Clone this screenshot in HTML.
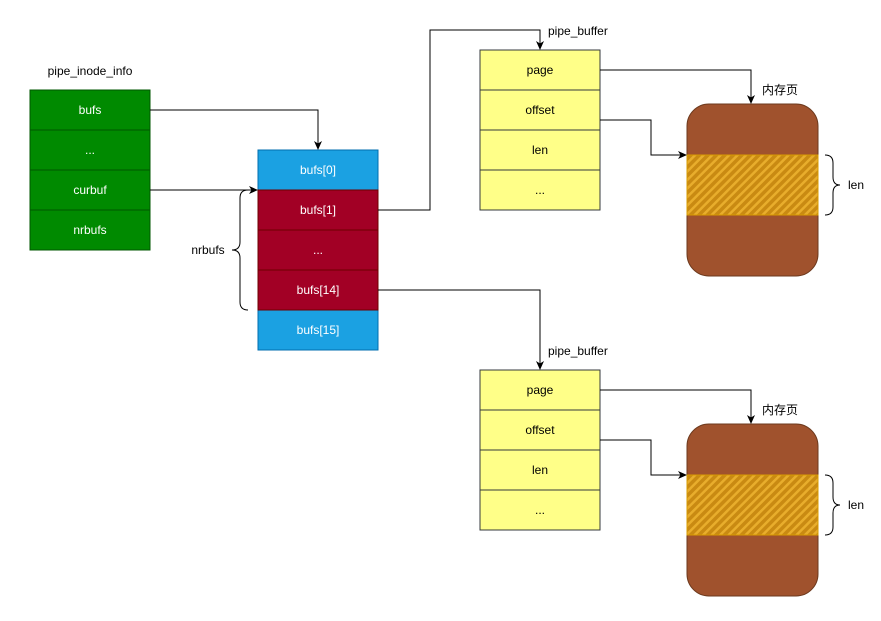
<!DOCTYPE html>
<html><head><meta charset="utf-8"><style>
html,body{margin:0;padding:0;background:#fff;width:881px;height:621px;overflow:hidden}
text{font-family:"Liberation Sans","Noto Sans CJK SC",sans-serif;font-size:12px}
</style></head><body>
<svg width="881" height="621" viewBox="0 0 881 621" xmlns="http://www.w3.org/2000/svg">
<defs>
<marker id="a" markerWidth="10" markerHeight="10" refX="8" refY="5" orient="auto" markerUnits="userSpaceOnUse">
<path d="M0,1 L9,5 L0,9 L2.5,5 z" fill="#000"/></marker>
<pattern id="h" width="6" height="6" patternUnits="userSpaceOnUse" patternTransform="rotate(45)">
<rect width="6" height="6" fill="#c98a12"/><rect width="2.5" height="6" fill="#e8ad2c"/></pattern>
</defs>
<!-- green -->
<text x="90" y="75" text-anchor="middle" fill="#000">pipe_inode_info</text>
<g stroke="#005700" fill="#008a00">
<rect x="30" y="90" width="120" height="40"/><rect x="30" y="130" width="120" height="40"/>
<rect x="30" y="170" width="120" height="40"/><rect x="30" y="210" width="120" height="40"/></g>
<g fill="#fff" text-anchor="middle"><text x="90" y="114">bufs</text><text x="90" y="154">...</text>
<text x="90" y="194">curbuf</text><text x="90" y="234">nrbufs</text></g>
<!-- array -->
<g stroke="#006eaf"><rect x="258" y="150" width="120" height="40" fill="#1ba1e2"/><rect x="258" y="310" width="120" height="40" fill="#1ba1e2"/></g>
<g stroke="#6f0000" fill="#a20025"><rect x="258" y="190" width="120" height="40"/><rect x="258" y="230" width="120" height="40"/><rect x="258" y="270" width="120" height="40"/></g>
<g fill="#fff" text-anchor="middle"><text x="318" y="174">bufs[0]</text><text x="318" y="214">bufs[1]</text>
<text x="318" y="254">...</text><text x="318" y="294">bufs[14]</text><text x="318" y="334">bufs[15]</text></g>
<path d="M248,190 Q240,190 240,198 L240,242 Q240,250 232,250 Q240,250 240,258 L240,302 Q240,310 248,310" fill="none" stroke="#000"/>
<text x="208" y="254" text-anchor="middle">nrbufs</text>
<!-- pipe buffers -->
<g id="pb">
<g stroke="#36393d" fill="#ffff88"><rect x="480" y="50" width="120" height="40"/><rect x="480" y="90" width="120" height="40"/>
<rect x="480" y="130" width="120" height="40"/><rect x="480" y="170" width="120" height="40"/></g>
<g text-anchor="middle" fill="#000"><text x="540" y="74">page</text><text x="540" y="114">offset</text><text x="540" y="154">len</text><text x="540" y="194">...</text></g>
<text x="548" y="35">pipe_buffer</text>
<rect x="687" y="104" width="131" height="172" rx="22" fill="#a0522d" stroke="#6d3a1e"/>
<rect x="687" y="155" width="131" height="60" fill="url(#h)" stroke="#d79b00" stroke-width="1"/>
<text x="762" y="94">内存页</text>
<path d="M600,70 H751 V103" fill="none" stroke="#000" marker-end="url(#a)"/>
<path d="M600,120 H651 V155 H686" fill="none" stroke="#000" marker-end="url(#a)"/>
<path d="M825,155 Q833,155 833,163 L833,177 Q833,185 840,185 Q833,185 833,193 L833,207 Q833,215 825,215" fill="none" stroke="#000"/>
<text x="848" y="189">len</text>
</g>
<use href="#pb" y="320"/>
<!-- connectors -->
<g fill="none" stroke="#000">
<path d="M150,110 H318 V149" marker-end="url(#a)"/>
<path d="M150,190 H257" marker-end="url(#a)"/>
<path d="M378,210 H430 V30 H540 V49" marker-end="url(#a)"/>
<path d="M378,290 H540 V369" marker-end="url(#a)"/>
</g>
</svg>
</body></html>
